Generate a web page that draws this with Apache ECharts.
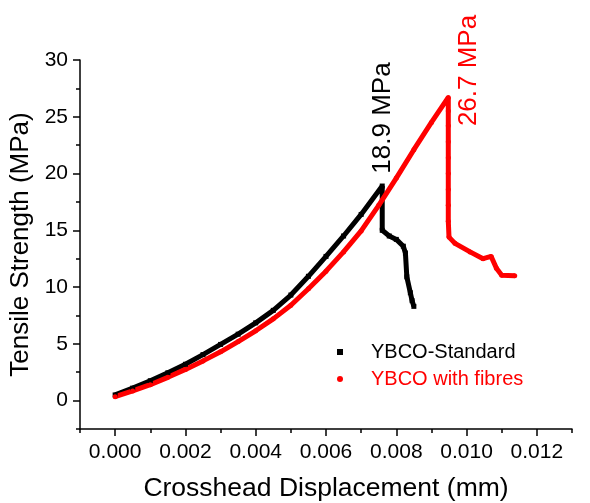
<!DOCTYPE html>
<html>
<head>
<meta charset="utf-8">
<script src="https://cdn.jsdelivr.net/npm/echarts@6/dist/echarts.min.js"></script>
<style>
  html, body { margin: 0; padding: 0; background: #fff; }
  #chart { width: 590px; height: 503px; }
</style>
</head>
<body>
<div id="chart"></div>
<script>
// YBCO-Standard (displacement mm, strength MPa)
const stdX = [0, 0.0005, 0.001, 0.0015, 0.002, 0.0025, 0.003, 0.0035, 0.004, 0.0045, 0.005, 0.0055, 0.006, 0.0065, 0.007, 0.0076,
  0.0076, 0.0078, 0.008, 0.0082, 0.00826, 0.0083, 0.0084, 0.00845, 0.0085]
const stdY = [0.5, 1.1, 1.75, 2.45, 3.2, 4.05, 4.95, 5.85, 6.85, 7.95, 9.3, 10.95, 12.7, 14.5, 16.4, 18.9,
  15.0, 14.5, 14.2, 13.6, 13.0, 10.9, 9.5, 8.8, 8.3]

// YBCO with fibres
const fibX = [0, 0.0005, 0.001, 0.0015, 0.002, 0.0025, 0.003, 0.0035, 0.004, 0.0045, 0.005, 0.0055, 0.006, 0.0065, 0.007, 0.0075,
  0.008, 0.0085, 0.009, 0.00948,
  0.00948, 0.00948, 0.00948, 0.00948, 0.00948, 0.00948, 0.00948, 0.00948, 0.0095,
  0.00967, 0.0101, 0.01047, 0.0107, 0.01085, 0.011, 0.01137]
const fibY = [0.35, 0.85, 1.4, 2.05, 2.75, 3.5, 4.3, 5.2, 6.15, 7.2, 8.4, 9.85, 11.4, 13.1, 14.95, 17.2,
  19.6, 22.1, 24.5, 26.7,
  25.5, 24.2, 22.8, 21.4, 20.0, 18.6, 17.2, 15.8, 14.4,
  13.85, 13.1, 12.5, 12.7, 11.65, 11.05, 11.0]

const xMajor = [0, 0.002, 0.004, 0.006, 0.008, 0.010, 0.012]
const xMinor = [-0.001, 0.001, 0.003, 0.005, 0.007, 0.009, 0.011, 0.013]
const yMajor = [0, 5, 10, 15, 20, 25, 30]
const yMinor = [-2.5, 2.5, 7.5, 12.5, 17.5, 22.5, 27.5]

const peakStd = [0.0076, 18.9]
const peakFib = [0.00948, 26.7]

const font = 'Liberation Sans, Arial, sans-serif'
const pair = (xs, ys) => xs.map((x, i) => [x, ys[i]])

const chart = echarts.init(document.getElementById('chart'))

const axisBase = {
  axisLine: { show: true, onZero: false, lineStyle: { color: '#000', width: 1.5 } },
  splitLine: { show: false }
}

chart.setOption({
  animation: false,
  grid: { left: 80, right: 18, top: 60, bottom: 74, containLabel: false, outerBoundsMode: 'none' },
  legend: {
    orient: 'vertical',
    left: 337,
    top: 341,
    padding: 0,
    itemGap: 5,
    itemWidth: 6,
    itemHeight: 6,
    textStyle: { fontFamily: font, fontSize: 20, lineHeight: 22, padding: [0, 0, 0, 23] },
    data: [
      { name: 'YBCO-Standard', icon: 'rect', textStyle: { color: '#000' } },
      { name: 'YBCO with fibres', icon: 'circle', textStyle: { color: '#ff0000' } }
    ]
  },
  xAxis: [
    {
      ...axisBase,
      type: 'value', min: -0.001, max: 0.013,
      name: 'Crosshead Displacement (mm)',
      nameLocation: 'middle', nameGap: 46,
      nameTextStyle: { fontFamily: font, fontSize: 26.5, color: '#000' },
      axisTick: { show: true, length: 7, customValues: xMajor, lineStyle: { color: '#000', width: 1.5 } },
      axisLabel: { customValues: xMajor, margin: 13, fontFamily: font, fontSize: 21, color: '#000',
        formatter: v => v.toFixed(3) }
    },
    {
      type: 'value', min: -0.001, max: 0.013, position: 'bottom',
      axisLine: { show: false, onZero: false }, splitLine: { show: false },
      axisLabel: { show: false },
      axisTick: { show: true, length: 4, customValues: xMinor, lineStyle: { color: '#000', width: 1.5 } }
    }
  ],
  yAxis: [
    {
      ...axisBase,
      type: 'value', min: -2.5, max: 30,
      name: 'Tensile Strength (MPa)',
      nameLocation: 'middle', nameGap: 41,
      nameTextStyle: { fontFamily: font, fontSize: 26, color: '#000' },
      axisTick: { show: true, length: 7, customValues: yMajor, lineStyle: { color: '#000', width: 1.5 } },
      axisLabel: { customValues: yMajor, margin: 12, fontFamily: font, fontSize: 21, color: '#000' }
    },
    {
      type: 'value', min: -2.5, max: 30, position: 'left',
      axisLine: { show: false, onZero: false }, splitLine: { show: false },
      axisLabel: { show: false },
      axisTick: { show: true, length: 4, customValues: yMinor, lineStyle: { color: '#000', width: 1.5 } }
    }
  ],
  series: [
    {
      name: 'YBCO-Standard',
      type: 'line',
      data: pair(stdX, stdY),
      symbol: 'rect', symbolSize: 5, showSymbol: true,
      itemStyle: { color: '#000' },
      lineStyle: { color: '#000', width: 5 },
      markPoint: {
        symbol: 'circle', symbolSize: 0,
        data: [{ coord: peakStd }],
        label: { show: true, formatter: '18.9 MPa', rotate: 90, position: 'inside', offset: [68, 1],
          fontFamily: font, fontSize: 26, color: '#000' }
      }
    },
    {
      name: 'YBCO with fibres',
      type: 'line',
      data: pair(fibX, fibY),
      symbol: 'circle', symbolSize: 5, showSymbol: true,
      itemStyle: { color: '#ff0000' },
      lineStyle: { color: '#ff0000', width: 5 },
      markPoint: {
        symbol: 'circle', symbolSize: 0,
        data: [{ coord: peakFib }],
        label: { show: true, formatter: '26.7 MPa', rotate: 90, position: 'inside', offset: [27, 21],
          fontFamily: font, fontSize: 26, color: '#ff0000' }
      }
    }
  ]
})
</script>
</body>
</html>
